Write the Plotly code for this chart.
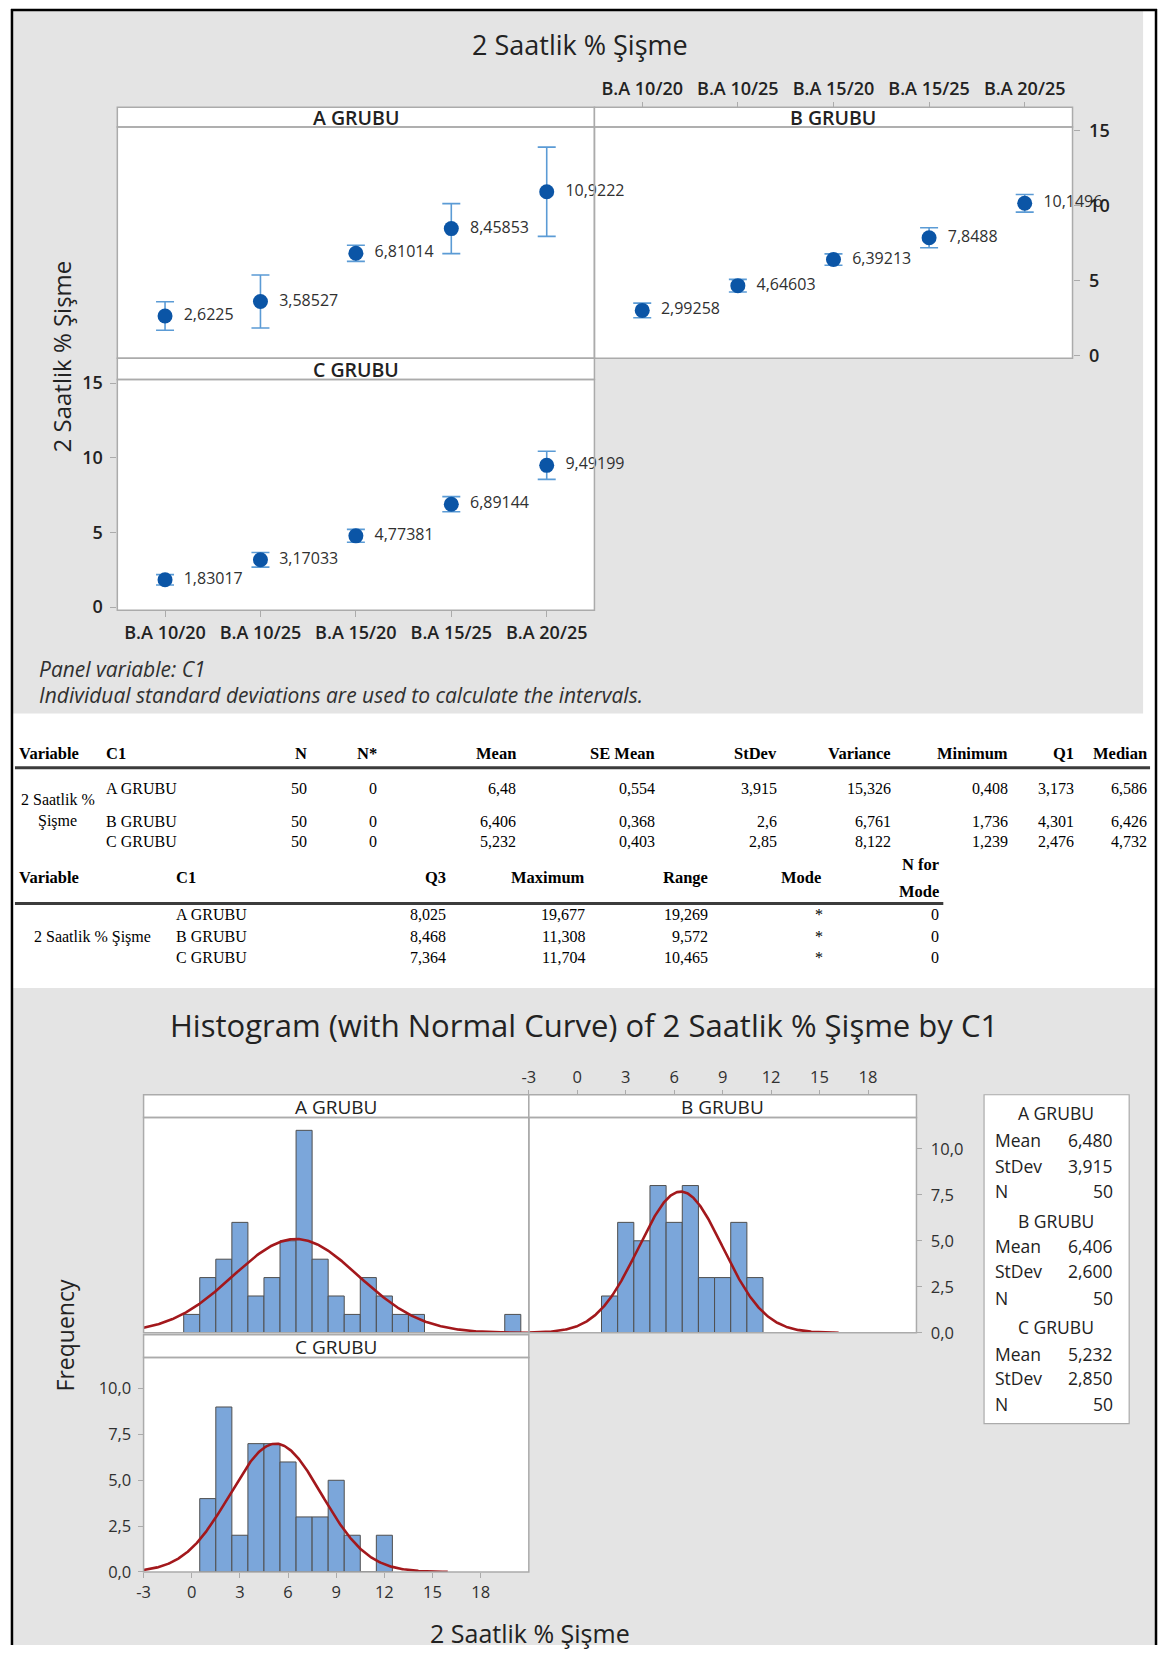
import numpy as np
import plotly.graph_objects as go

W, H = 1158, 1656

# ---------------- data ----------------
categories = ["B.A 10/20", "B.A 10/25", "B.A 15/20", "B.A 15/25", "B.A 20/25"]
groups = ["A GRUBU", "B GRUBU", "C GRUBU"]

mean_a = [2.6225, 3.58527, 6.81014, 8.45853, 10.9222]
mean_b = [2.99258, 4.64603, 6.39213, 7.8488, 10.1496]
mean_c = [1.83017, 3.17033, 4.77381, 6.89144, 9.49199]

ci_a = [0.95, 1.77, 0.54, 1.67, 2.98]
ci_b = [0.49, 0.42, 0.38, 0.67, 0.59]
ci_c = [0.35, 0.49, 0.43, 0.51, 0.94]

interval_yticks = [0, 5, 10, 15]

# descriptive statistics (first block)
col_n = ["50", "50", "50"]
col_nstar = ["0", "0", "0"]
col_mean = ["6,48", "6,406", "5,232"]
col_se_mean = ["0,554", "0,368", "0,403"]
col_stdev = ["3,915", "2,6", "2,85"]
col_variance = ["15,326", "6,761", "8,122"]
col_minimum = ["0,408", "1,736", "1,239"]
col_q1 = ["3,173", "4,301", "2,476"]
col_median = ["6,586", "6,426", "4,732"]
# descriptive statistics (second block)
col_q3 = ["8,025", "8,468", "7,364"]
col_maximum = ["19,677", "11,308", "11,704"]
col_range = ["19,269", "9,572", "10,465"]
col_mode = ["*", "*", "*"]
col_n_mode = ["0", "0", "0"]

# histogram bins (midpoints, width 1) and frequencies
hist_a_bins = [0, 1, 2, 3, 4, 5, 6, 7, 8, 9, 10, 11, 12, 13, 14, 20]
hist_a_counts = [1, 3, 4, 6, 2, 3, 5, 11, 4, 2, 1, 3, 2, 1, 1, 1]
hist_b_bins = [2, 3, 4, 5, 6, 7, 8, 9, 10, 11]
hist_b_counts = [2, 6, 5, 8, 6, 8, 3, 3, 6, 3]
hist_c_bins = [1, 2, 3, 4, 5, 6, 7, 8, 9, 10, 11, 12]
hist_c_counts = [4, 9, 2, 7, 7, 6, 3, 3, 5, 2, 0, 2]

group_mean = [6.480, 6.406, 5.232]
group_sd = [3.915, 2.600, 2.850]
group_n = [50, 50, 50]
legend_mean = ["6,480", "6,406", "5,232"]
legend_sd = ["3,915", "2,600", "2,850"]

hist_xticks = [-3, 0, 3, 6, 9, 12, 15, 18]
hist_xticktext = ["-3", "0", "3", "6", "9", "12", "15", "18"]
hist_yticks = [0, 2.5, 5, 7.5, 10]
hist_yticktext = ["0,0", "2,5", "5,0", "7,5", "10,0"]

# ---------------- styling ----------------
GRAY_BG = "#E4E4E4"
FRAME = "#ABABAB"
DOT = "#0B55A6"
ERR = "#5B9BD5"
BAR = "#7BA6DA"
BAR_EDGE = "#4F4F4F"
CURVE = "#A3181C"
TXT = "#303030"
DARK = "#222222"
SANS = "Open Sans"
SERIF = "Liberation Serif"


def fx(x):
    return x / W


def fy(y):
    return 1 - y / H


shapes = []
annotations = []


def rect(x0, y0, x1, y1, fill=None, line=None, lw=1, layer="above"):
    shapes.append(dict(
        type="rect", xref="paper", yref="paper",
        x0=fx(x0), x1=fx(x1), y0=fy(y1), y1=fy(y0),
        fillcolor=fill if fill else "rgba(0,0,0,0)",
        line=dict(color=line if line else "rgba(0,0,0,0)", width=lw if line else 0),
        layer=layer))


def hline(x0, x1, y, color, lw):
    shapes.append(dict(type="line", xref="paper", yref="paper",
                       x0=fx(x0), x1=fx(x1), y0=fy(y), y1=fy(y),
                       line=dict(color=color, width=lw), layer="above"))


def vline(x, y0, y1, color, lw):
    shapes.append(dict(type="line", xref="paper", yref="paper",
                       x0=fx(x), x1=fx(x), y0=fy(y0), y1=fy(y1),
                       line=dict(color=color, width=lw), layer="above"))


def text(x, y, s, size, anchor="center", color=TXT, family=SANS, weight="normal",
         style="normal", angle=0):
    annotations.append(dict(
        x=fx(x), y=fy(y), xref="paper", yref="paper", text=s, showarrow=False,
        xanchor=anchor, yanchor="middle", textangle=angle,
        font=dict(size=size, color=color, family=family, weight=weight, style=style)))


# panel geometry (pixels)
IX_A = (111, 591)
IX_B = (591, 1072)
IY_AB = (119.5, 353.5)
IY_C = (375, 608.5)
HX_A = (137.4, 525)
HX_B = (525, 915)
HY_AB = (1122, 1340)
HY_C = (1365, 1582)

# background regions, white plotting areas and outer frame
rect(6, 2, 1143, 713, fill=GRAY_BG, layer="below")
rect(6, 991, 1155, 1656, fill=GRAY_BG, layer="below")
for (x0, x1), (y0, y1) in [(IX_A, IY_AB), (IX_B, IY_AB), (IX_A, IY_C),
                           (HX_A, HY_AB), (HX_B, HY_AB), (HX_A, HY_C)]:
    rect(x0, y0, x1, y1, fill="#FFFFFF", layer="below")
vline(5, 0, 1656, "#000000", 2.5)
vline(1156, 0, 1656, "#000000", 2.5)
hline(4, 1157, 1, "#000000", 2.5)

fig = go.Figure()

# ---------------- interval plot ----------------
Y_RANGE = [-0.2, 15.24]
PAD = "\u00a0\u00a0"


def fmt(v):
    return PAD + str(v).replace(".", ",")


for vals, ci, xa, ya in [(mean_a, ci_a, "x", "y"), (mean_b, ci_b, "x2", "y2"),
                         (mean_c, ci_c, "x3", "y3")]:
    fig.add_trace(go.Scatter(
        x=categories, y=vals, mode="markers+text",
        text=[fmt(v) for v in vals], textposition="middle right",
        textfont=dict(size=16, color=TXT, family=SANS),
        marker=dict(size=15, color=DOT),
        error_y=dict(type="data", array=ci, color=ERR, thickness=1.6, width=9),
        cliponaxis=False, xaxis=xa, yaxis=ya, hoverinfo="skip"))

cat_axis = dict(type="category", categoryarray=categories, categoryorder="array",
                range=[-0.5, 4.5], showgrid=False, zeroline=False, showline=False)
val_axis = dict(range=Y_RANGE, showgrid=False, zeroline=False, showline=False)
tickfont_top = dict(size=18, color=DARK, family=SANS, weight=600)

layout_axes = {}
layout_axes["xaxis"] = dict(cat_axis, domain=[fx(IX_A[0]), fx(IX_A[1])], anchor="y",
                            showticklabels=False, ticks="")
layout_axes["yaxis"] = dict(val_axis, domain=[fy(IY_AB[1]), fy(IY_AB[0])], anchor="x",
                            showticklabels=False, ticks="")
layout_axes["xaxis2"] = dict(cat_axis, domain=[fx(IX_B[0]), fx(IX_B[1])], side="top",
                             anchor="free", position=fy(99.5), ticks="outside",
                             ticklen=5, tickcolor=FRAME, tickfont=tickfont_top)
layout_axes["yaxis2"] = dict(val_axis, domain=[fy(IY_AB[1]), fy(IY_AB[0])], anchor="x2",
                             side="right", tickvals=interval_yticks, ticks="outside",
                             ticklen=6, tickcolor=FRAME, tickfont=tickfont_top,
                             ticklabelstandoff=6)
layout_axes["xaxis3"] = dict(cat_axis, domain=[fx(IX_A[0]), fx(IX_A[1])], anchor="y3",
                             ticks="outside", ticklen=6, tickcolor=FRAME,
                             tickfont=tickfont_top)
layout_axes["yaxis3"] = dict(val_axis, domain=[fy(IY_C[1]), fy(IY_C[0])], anchor="x3",
                             tickvals=interval_yticks, ticks="outside", ticklen=6,
                             tickcolor=FRAME, tickfont=tickfont_top, ticklabelstandoff=4)

# panel frames and strips
for (x0, x1), (y0, y1), strip_top, name in [
        (IX_A, IY_AB, 99.5, groups[0]), (IX_B, IY_AB, 99.5, groups[1]),
        (IX_A, IY_C, 353.5, groups[2])]:
    rect(x0, strip_top, x1, y0, fill="#FFFFFF", line=FRAME, lw=1.5)
    rect(x0, y0, x1, y1, line=FRAME, lw=1.5)
    text((x0 + x1) / 2, (strip_top + y0) / 2 + 0.5, name, 19.5, weight=600, color=DARK)

text(576, 36, "2 Saatlik % Şişme", 27, color=DARK)
text(55, 352, "2 Saatlik % Şişme", 24, angle=-90, color=DARK)
text(30, 668, "Panel variable: C1", 21, anchor="left", style="italic")
text(30, 694, "Individual standard deviations are used to calculate the intervals.",
     21, anchor="left", style="italic")

# ---------------- statistics table ----------------
T_HEAD = 16.5
T_VAL = 16
row1 = [789, 822, 843]
text(10, 754, "<b>Variable</b>", T_HEAD, anchor="left", color="#000", family=SERIF)
text(98, 754, "<b>C1</b>", T_HEAD, anchor="left", color="#000", family=SERIF)
hline(8, 1150, 768, "#3C3C3C", 3)
text(51, 800, "2 Saatlik %", T_VAL, color="#000", family=SERIF)
text(51, 822, "Şişme", T_VAL, color="#000", family=SERIF)
block1 = [("N", 304, col_n), ("N*", 374, col_nstar), ("Mean", 514, col_mean),
          ("SE Mean", 654, col_se_mean), ("StDev", 777, col_stdev),
          ("Variance", 891, col_variance), ("Minimum", 1009, col_minimum),
          ("Q1", 1075, col_q1), ("Median", 1149, col_median)]
for head, xr, col in block1:
    text(xr, 754, "<b>%s</b>" % head, T_HEAD, anchor="right", color="#000", family=SERIF)
    for yv, v in zip(row1, col):
        text(xr, yv, v, T_VAL, anchor="right", color="#000", family=SERIF)
for yv, g in zip(row1, groups):
    text(98, yv, g, T_VAL, anchor="left", color="#000", family=SERIF)

row2 = [917, 939, 960]
text(10, 879, "<b>Variable</b>", T_HEAD, anchor="left", color="#000", family=SERIF)
text(168, 879, "<b>C1</b>", T_HEAD, anchor="left", color="#000", family=SERIF)
hline(8, 942, 905.5, "#3C3C3C", 3)
text(86, 939, "2 Saatlik % Şişme", T_VAL, color="#000", family=SERIF)
block2 = [("Q3", 444, col_q3), ("Maximum", 584, col_maximum), ("Range", 707, col_range)]
for head, xr, col in block2:
    text(xr, 879, "<b>%s</b>" % head, T_HEAD, anchor="right", color="#000", family=SERIF)
    for yv, v in zip(row2, col):
        text(xr, yv, v, T_VAL, anchor="right", color="#000", family=SERIF)
text(821, 879, "<b>Mode</b>", T_HEAD, anchor="right", color="#000", family=SERIF)
for yv, v in zip(row2, col_mode):
    text(817, yv, v, T_VAL, color="#000", family=SERIF)
text(940, 866, "<b>N for</b>", T_HEAD, anchor="right", color="#000", family=SERIF)
text(940, 893, "<b>Mode</b>", T_HEAD, anchor="right", color="#000", family=SERIF)
for yv, v in zip(row2, col_n_mode):
    text(940, yv, v, T_VAL, anchor="right", color="#000", family=SERIF)
for yv, g in zip(row2, groups):
    text(168, yv, g, T_VAL, anchor="left", color="#000", family=SERIF)

# ---------------- histograms ----------------
HX_RANGE = [-3, 21]
HY_RANGE = [0, 11.7]
BIN_W = 1.0

hist_sets = [(hist_a_bins, hist_a_counts, "x4", "y4"),
             (hist_b_bins, hist_b_counts, "x5", "y5"),
             (hist_c_bins, hist_c_counts, "x6", "y6")]
for i, (bins, counts, xa, ya) in enumerate(hist_sets):
    fig.add_trace(go.Bar(x=bins, y=counts, width=BIN_W, xaxis=xa, yaxis=ya,
                         marker=dict(color=BAR, line=dict(color=BAR_EDGE, width=1)),
                         hoverinfo="skip"))
    m, s, n = group_mean[i], group_sd[i], group_n[i]
    xs = np.linspace(max(HX_RANGE[0], m - 3.76 * s), min(HX_RANGE[1], m + 3.76 * s), 400)
    ys = n * BIN_W * np.exp(-0.5 * ((xs - m) / s) ** 2) / (s * np.sqrt(2 * np.pi))
    fig.add_trace(go.Scatter(x=xs, y=ys, mode="lines", xaxis=xa, yaxis=ya,
                             line=dict(color=CURVE, width=2.6), hoverinfo="skip"))

tickfont_h = dict(size=16.5, color=TXT, family=SANS)
hx_axis = dict(range=HX_RANGE, showgrid=False, zeroline=False, showline=False)
hy_axis = dict(range=HY_RANGE, showgrid=False, zeroline=False, showline=False)
layout_axes["xaxis4"] = dict(hx_axis, domain=[fx(HX_A[0]), fx(HX_A[1])], anchor="y4",
                             showticklabels=False, ticks="")
layout_axes["yaxis4"] = dict(hy_axis, domain=[fy(HY_AB[1]), fy(HY_AB[0])], anchor="x4",
                             showticklabels=False, ticks="")
layout_axes["xaxis5"] = dict(hx_axis, domain=[fx(HX_B[0]), fx(HX_B[1])], side="top",
                             anchor="free", position=fy(1099), tickvals=hist_xticks,
                             ticktext=hist_xticktext, ticks="outside", ticklen=5,
                             tickcolor=FRAME, tickfont=tickfont_h)
layout_axes["yaxis5"] = dict(hy_axis, domain=[fy(HY_AB[1]), fy(HY_AB[0])], anchor="x5",
                             side="right", tickvals=hist_yticks, ticktext=hist_yticktext,
                             ticks="outside", ticklen=5, tickcolor=FRAME,
                             tickfont=tickfont_h, ticklabelstandoff=5)
layout_axes["xaxis6"] = dict(hx_axis, domain=[fx(HX_A[0]), fx(HX_A[1])], anchor="y6",
                             tickvals=hist_xticks, ticktext=hist_xticktext,
                             ticks="outside", ticklen=5, tickcolor=FRAME,
                             tickfont=tickfont_h)
layout_axes["yaxis6"] = dict(hy_axis, domain=[fy(HY_C[1]), fy(HY_C[0])], anchor="x6",
                             tickvals=hist_yticks, ticktext=hist_yticktext,
                             ticks="outside", ticklen=5, tickcolor=FRAME,
                             tickfont=tickfont_h, ticklabelstandoff=3)

for (x0, x1), (y0, y1), strip_top, name in [
        (HX_A, HY_AB, 1099, groups[0]), (HX_B, HY_AB, 1099, groups[1]),
        (HX_A, HY_C, 1342, groups[2])]:
    rect(x0, strip_top, x1, y0, fill="#FFFFFF", line=FRAME, lw=1.5)
    rect(x0, y0, x1, y1, line=FRAME, lw=1.5)
    text((x0 + x1) / 2, (strip_top + y0) / 2 + 0.5, name, 19, color=DARK)

text(581, 1028, "Histogram (with Normal Curve) of 2 Saatlik % Şişme by C1", 31,
     color=DARK)
text(58, 1343, "Frequency", 23, angle=-90, color=DARK)
text(526, 1644, "2 Saatlik % Şişme", 25, color=DARK)

# summary box
rect(983, 1099, 1129, 1432, fill="#FFFFFF", line=FRAME, lw=1.2)
box_rows = [(1118, 1145, 1171, 1196), (1227, 1252, 1277, 1305), (1334, 1361, 1386, 1412)]
for g, (yh, ym, ys_, yn), mv, sv, nv in zip(groups, box_rows, legend_mean, legend_sd, group_n):
    text(1055, yh, g, 17.5, color=DARK)
    text(992, ym, "Mean", 17.5, anchor="left", color=DARK)
    text(1115, ym, mv, 17.5, anchor="right", color=DARK)
    text(992, ys_, "StDev", 17.5, anchor="left", color=DARK)
    text(1115, ys_, sv, 17.5, anchor="right", color=DARK)
    text(992, yn, "N", 17.5, anchor="left", color=DARK)
    text(1115, yn, str(nv), 17.5, anchor="right", color=DARK)

fig.update_layout(
    width=W, height=H, autosize=False,
    margin=dict(l=0, r=0, t=0, b=0),
    paper_bgcolor="#FFFFFF", plot_bgcolor="#FFFFFF",
    showlegend=False, separators=",.",
    font=dict(family=SANS, color=TXT),
    shapes=shapes, annotations=annotations,
    **layout_axes)

# page without default body spacing so the figure starts at the top-left corner
page_css = ("document.documentElement.style.margin='0';"
            "document.documentElement.style.padding='0';"
            "document.body.style.margin='0';"
            "document.body.style.padding='0';")
fig.write_html("out.html", post_script=page_css)
